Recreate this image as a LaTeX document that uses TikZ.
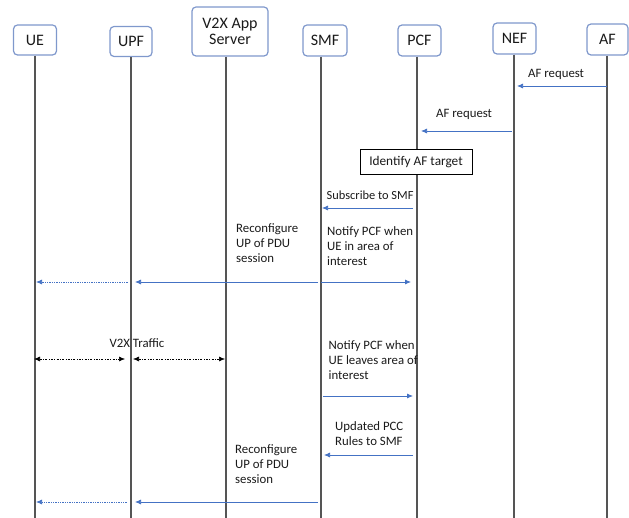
\documentclass[tikz,border=0pt]{standalone}
\usepackage{fontspec}
\setmainfont{Carlito}
\usetikzlibrary{arrows.meta}
\definecolor{msgblue}{HTML}{4472C4}
\definecolor{boxedge}{HTML}{7F98CC}
\definecolor{lifegray}{HTML}{555555}
\definecolor{txt}{HTML}{1A1A1A}
\begin{document}
\begin{tikzpicture}[x=1pt,y=-1pt,
  entity/.style={draw=boxedge,line width=1.2pt,rounded corners=4pt,fill=white,
    text=txt,font=\fontsize{16}{18}\selectfont,align=center,inner sep=0pt},
  life/.style={draw=lifegray,line width=1.1pt},
  msg/.style={draw=msgblue,line width=0.75pt,-{Latex[length=6pt,width=5pt]}},
  msgdot/.style={msg,densely dotted},
  traffic/.style={draw=black,line width=0.6pt,dash pattern=on 2pt off 1.5pt on 0.6pt off 1.5pt,
    {Latex[length=6pt,width=5pt]}-{Latex[length=6pt,width=5pt]}},
  lbl/.style={text=txt,font=\fontsize{12.8}{15}\selectfont,align=left,inner sep=0pt},
  action/.style={draw=black,line width=0.7pt,fill=white,text=txt,
    font=\fontsize{13.3}{15}\selectfont,inner sep=0pt}]
\useasboundingbox (0,0) rectangle (629,518);

% participants
\node[entity,minimum width=43pt,minimum height=30pt] (ue)  at (35,40)    {UE};
\node[entity,minimum width=42pt,minimum height=30pt] (upf) at (131,41.5) {\raisebox{-2pt}{UPF}};
\node[entity,minimum width=76pt,minimum height=49pt] (v2x) at (230,31.5) {V2X App\\[-2pt]Server};
\node[entity,minimum width=44pt,minimum height=31pt] (smf) at (325,40.5) {SMF};
\node[entity,minimum width=43pt,minimum height=31pt] (pcf) at (419.5,40.5) {PCF};
\node[entity,minimum width=43pt,minimum height=31pt] (nef) at (514.5,38.5) {NEF};
\node[entity,minimum width=41pt,minimum height=31pt] (af)  at (607.5,39.5) {AF};

% lifeline ends
\coordinate (ueE)  at (35,518);
\coordinate (upfE) at (131,518);
\coordinate (v2xE) at (226,518);
\coordinate (smfE) at (321,518);
\coordinate (pcfE) at (417,518);
\coordinate (nefE) at (514,518);
\coordinate (afE)  at (607,518);

% lifelines
\draw[life] (ue.south)  -- (ueE);
\draw[life] (upf.south) -- (upf.south |- upfE);
\draw[life] (v2x.south -| v2xE) -- (v2xE);
\draw[life] (smf.south -| smfE) -- (smfE);
\draw[life] (pcf.south -| pcfE) -- (pcfE);
\draw[life] (nef.south -| nefE) -- (nefE);
\draw[life] (af.south -| afE) -- (afE);

% message rows
\coordinate (r1) at (0,86);
\coordinate (r2) at (0,131);
\coordinate (r3) at (0,208);
\coordinate (r4) at (0,282);
\coordinate (r5) at (0,359);
\coordinate (r6) at (0,396);
\coordinate (r7) at (0,455);
\coordinate (r8) at (0,502);

% AF -> NEF
\draw[msg] (afE |- r1) -- ([xshift=3pt]nefE |- r1);
\node[lbl,anchor=west] (l1) at (528,74) {AF request};
% NEF -> PCF
\draw[msg] ([xshift=-2pt]nefE |- r2) -- ([xshift=4pt]pcfE |- r2);
\node[lbl,anchor=west] (l2) at (436,114.5) {AF request};
% local action at PCF
\node[action,minimum width=112pt,minimum height=25pt] (ident) at (416,162) {Identify AF target};
% PCF -> SMF
\draw[msg] ([xshift=-4pt]pcfE |- r3) -- ([xshift=1pt]smfE |- r3);
\node[lbl,anchor=west,font=\fontsize{12.4}{15}\selectfont] (l3) at (326.5,195) {Subscribe to SMF};
% first reconfiguration
\node[lbl,anchor=north west] (l4) at (236,223) {Reconfigure\\UP of PDU\\session};
\node[lbl,anchor=north west] (l5) at (327,226) {Notify PCF when\\UE in area of\\interest};
\draw[msg] ([xshift=-3pt]smfE |- r4) -- ([xshift=4pt]upfE |- r4);
\draw[msgdot] ([xshift=-3pt]upfE |- r4) -- ([xshift=1pt]ueE |- r4);
\draw[msg] (smfE |- r4) -- ([xshift=-6pt]pcfE |- r4);
% user plane traffic
\node[lbl,anchor=center] (l6) at (137,343) {V2X Traffic};
\draw[traffic] ([xshift=-1pt]ueE |- r5) -- ([xshift=-6pt]upfE |- r5);
\draw[traffic] ([xshift=2pt]upfE |- r5) -- ([xshift=-1pt]v2xE |- r5);
% UE leaves area
\node[lbl,anchor=north west] (l7) at (328.5,340) {Notify PCF when\\UE leaves area of\\interest};
\draw[msg] ([xshift=2pt]smfE |- r6) -- ([xshift=-4pt]pcfE |- r6);
% updated rules
\node[lbl,anchor=north west] (l8) at (335,421) {Updated PCC\\Rules to SMF};
\draw[msg] ([xshift=-4pt]pcfE |- r7) -- ([xshift=3pt]smfE |- r7);
% second reconfiguration
\node[lbl,anchor=north west] (l9) at (235,444) {Reconfigure\\UP of PDU\\session};
\draw[msg] ([xshift=-3pt]smfE |- r8) -- ([xshift=4pt]upfE |- r8);
\draw[msgdot] ([xshift=-4pt]upfE |- r8) -- ([xshift=1pt]ueE |- r8);
\end{tikzpicture}
\end{document}
